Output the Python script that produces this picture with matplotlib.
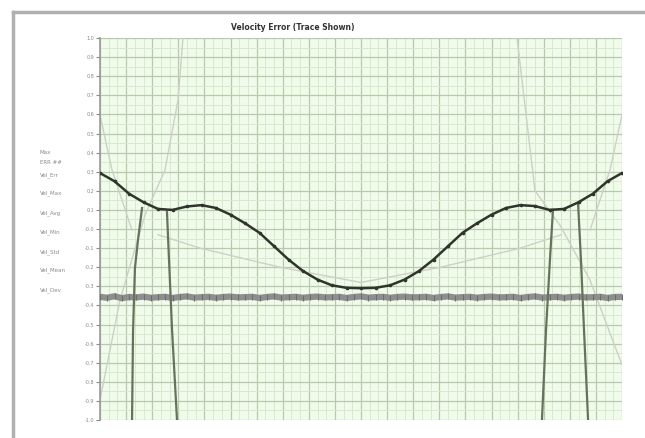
import numpy as np
import matplotlib
matplotlib.use("Agg")
import matplotlib.pyplot as plt
from matplotlib.lines import Line2D

# ---- data (x in degrees, y in error units) ----
main_x = [0, 10, 20, 30, 40, 50, 60, 70, 80, 90, 100, 110, 120, 130, 140, 150, 160, 170, 180,
          190, 200, 210, 220, 230, 240, 250, 260, 270, 280, 290, 300, 310, 320, 330, 340, 350, 360]
main_y = [0.293, 0.25, 0.185, 0.14, 0.105, 0.10, 0.118, 0.125, 0.11, 0.075, 0.03, -0.02, -0.09,
          -0.16, -0.22, -0.265, -0.295, -0.308, -0.31, -0.308, -0.295, -0.265, -0.22, -0.16,
          -0.09, -0.02, 0.03, 0.075, 0.11, 0.125, 0.12, 0.10, 0.105, 0.14, 0.185, 0.25, 0.293]

band_x = list(range(0, 361, 5))
band_y = [-0.355, -0.36, -0.352, -0.362, -0.356, -0.358, -0.354, -0.36, -0.357, -0.355,
          -0.361, -0.356, -0.353, -0.359, -0.357, -0.355, -0.36, -0.356, -0.354, -0.358,
          -0.357, -0.355, -0.361, -0.356, -0.353, -0.359, -0.357, -0.355, -0.36, -0.356,
          -0.354, -0.358, -0.357, -0.355, -0.361, -0.356, -0.353, -0.359, -0.357, -0.355,
          -0.36, -0.356, -0.354, -0.358, -0.357, -0.355, -0.361, -0.356, -0.353, -0.359,
          -0.357, -0.355, -0.36, -0.356, -0.354, -0.358, -0.357, -0.355, -0.361, -0.356,
          -0.353, -0.359, -0.357, -0.355, -0.36, -0.356, -0.354, -0.358, -0.357, -0.355,
          -0.361, -0.356, -0.355]

steep1_x = [29.0, 26.2, 24.1, 22.8, 22.1]
steep1_y = [0.11, -0.058, -0.204, -0.529, -1.0]
steep2_x = [46.2, 47.6, 49.7, 53.1]
steep2_y = [0.089, -0.162, -0.529, -1.0]
steep3_x = [312.4, 310.3, 307.6, 304.8]
steep3_y = [0.10, -0.162, -0.529, -1.0]
steep4_x = [329.7, 331.7, 333.8, 336.6]
steep4_y = [0.136, -0.162, -0.529, -1.0]

lightA_x = [0, 13.8, 31, 44.8, 53.8, 57.2]
lightA_y = [-0.895, -0.372, 0.073, 0.309, 0.675, 1.0]
lightC_x = [287.6, 300, 317.2, 337.9, 356.6, 360]
lightC_y = [1.0, 0.2, 0.02, -0.267, -0.644, -0.71]
lightB_x = [40, 69, 124, 180, 235, 290, 318]
lightB_y = [-0.03, -0.1, -0.2, -0.28, -0.2, -0.1, -0.03]
lightD_x = [338, 351.7, 360]
lightD_y = [-0.005, 0.309, 0.597]
lightE_x = [0, 8.3, 22]
lightE_y = [0.597, 0.309, -0.005]

ytick_vals = [round(v, 1) for v in np.arange(-1.0, 1.01, 0.1)]
side_labels = ["Max", "ERR ##", "Vel_Err", "Vel_Max", "Vel_Avg", "Vel_Min",
               "Vel_Std", "Vel_Mean", "Vel_Dev"]
title = "Velocity Error (Trace Shown)"

# ---- figure ----
fig = plt.figure(figsize=(6.45, 4.38), dpi=100)
fig.patch.set_facecolor("white")
ax = fig.add_axes([100 / 645, 18 / 438, 522 / 645, 382 / 438])
ax.set_facecolor("#f1fbec")

ax.set_xlim(0, 360)
ax.set_ylim(-1.0, 1.0)

# grid
ax.set_xticks(np.arange(0, 361, 18))
ax.set_xticks(np.arange(0, 361, 6), minor=True)
ax.set_yticks(ytick_vals)
ax.set_yticks(np.arange(-1.0, 1.01, 0.05), minor=True)
ax.grid(which="major", axis="both", color="#b6cbab", linewidth=0.9)
ax.grid(which="minor", axis="both", color="#d5ebca", linewidth=0.7)
ax.set_axisbelow(True)

ax.set_xticklabels([])
ax.tick_params(axis="x", which="both", length=0)
ax.set_yticklabels([f"{v:.1f}" for v in ytick_vals], fontsize=3.5, color="#888888")
ax.tick_params(axis="y", which="major", length=3, color="#888888", pad=1)
ax.tick_params(axis="y", which="minor", length=0)
for s in ["top", "right", "bottom"]:
    ax.spines[s].set_visible(False)
ax.spines["left"].set_color("#999999")
ax.spines["left"].set_linewidth(1.2)

# light curves
light = "#cdd0c6"
for xs, ys in [(lightA_x, lightA_y), (lightC_x, lightC_y), (lightB_x, lightB_y),
               (lightD_x, lightD_y), (lightE_x, lightE_y)]:
    ax.plot(xs, ys, color=light, linewidth=1.0, zorder=2)

# band
ax.plot(band_x, band_y, color="#8e8e8e", linewidth=4.5, zorder=3)
ax.plot(band_x, band_y, linestyle="none", marker="|", markersize=5,
        color="#6e6e6e", markeredgewidth=0.8, zorder=3)

# steep curves
for xs, ys in [(steep1_x, steep1_y), (steep2_x, steep2_y),
               (steep3_x, steep3_y), (steep4_x, steep4_y)]:
    ax.plot(xs, ys, color="#66735c", linewidth=1.6, zorder=4)

# main curve
ax.plot(main_x, main_y, color="#2f352b", linewidth=1.8, marker="o",
        markersize=1.6, zorder=5)

# title and side labels
fig.text(293 / 645, 1 - 27 / 438, title, fontsize=5.5, fontweight="bold",
         ha="center", va="center", color="#333333")
side_y = [152, 163, 175, 193, 213, 232, 252, 270, 290]
for lab, yy in zip(side_labels, side_y):
    fig.text(40 / 645, 1 - yy / 438, lab, fontsize=4, color="#8a8a8a",
             ha="left", va="center")

# outer frame
fig.add_artist(Line2D([13 / 645, 13 / 645], [0, 1 - 12 / 438],
                      transform=fig.transFigure, color="#b0b0b0", linewidth=2.5))
fig.add_artist(Line2D([13 / 645, 1], [1 - 12 / 438, 1 - 12 / 438],
                      transform=fig.transFigure, color="#b0b0b0", linewidth=2.5))

fig.savefig("out.png", dpi=100)
